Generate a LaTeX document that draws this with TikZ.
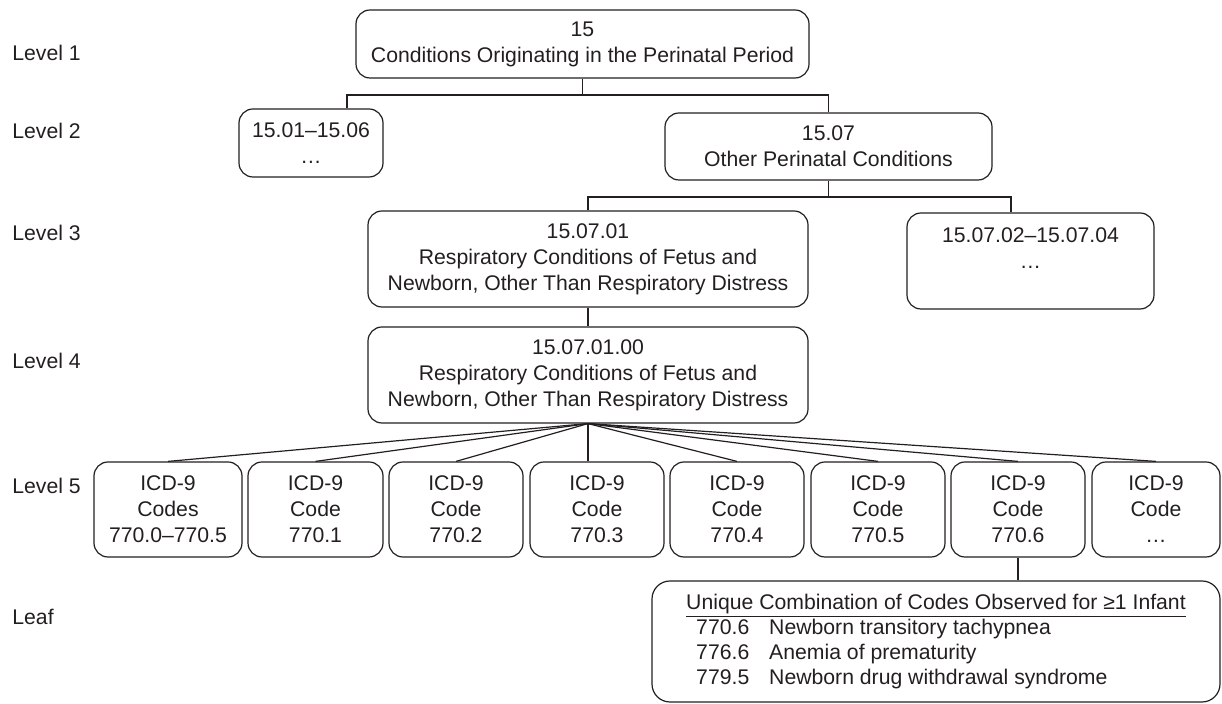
\documentclass[tikz,border=0pt]{standalone}
\usepackage{fontspec}
\setmainfont{Liberation Sans}
\usepackage{xcolor}
\usepackage{tikz}
\definecolor{ink}{HTML}{231F20}

\begin{document}
\begin{tikzpicture}[x=0.5pt, y=-0.5pt,
    box/.style={draw=ink, text=ink, line width=0.6pt, rounded corners=7pt, align=center, inner sep=2pt, font=\fontsize{10.6}{13}\selectfont},
    icd/.style={box, minimum width=67pt, minimum height=47.5pt},
    lvl/.style={anchor=west, text=ink, inner sep=0pt, font=\fontsize{10.6}{13}\selectfont},
    wire/.style={draw=ink, line width=0.6pt}]
    \useasboundingbox (0,0) rectangle (1222,704);

    \node[lvl] (lv1) at (12, 53) {Level 1};
    \node[lvl] (lv2) at (12, 131) {Level 2};
    \node[lvl] (lv3) at (12, 233) {Level 3};
    \node[lvl] (lv4) at (12, 361) {Level 4};
    \node[lvl] (lv5) at (12, 486) {Level 5};
    \node[lvl] (lvleaf) at (12, 617) {Leaf};

    \node[box, minimum width=226.5pt, minimum height=34pt] (n15) at (582.5, 44) {15\\Conditions Originating in the Perinatal Period};
    \node[box, minimum width=72pt, minimum height=34pt] (n1501) at (311, 143) {15.01–15.06\\…};
    \node[box, minimum width=163.5pt, minimum height=33.5pt] (n1507) at (828.5, 146.5) {15.07\\Other Perinatal Conditions};
    \node[box, minimum width=220pt, minimum height=48pt] (n150701) at (588, 259) {15.07.01\\Respiratory Conditions of Fetus and\\Newborn, Other Than Respiratory Distress};
    \node[box, minimum width=123.5pt, minimum height=48pt] (n150702) at (1030.5, 261) {15.07.02–15.07.04\\…\\\mbox{}};
    \node[box, minimum width=220pt, minimum height=48pt] (n15070100) at (588, 375) {15.07.01.00\\Respiratory Conditions of Fetus and\\Newborn, Other Than Respiratory Distress};

    \node[icd, minimum width=74pt] (i1) at (168, 509.5) {ICD-9\\Codes\\770.0–770.5};
    \node[icd, minimum width=67.5pt] (i2) at (315.5, 509.5) {ICD-9\\Code\\770.1};
    \node[icd] (i3) at (456, 509.5) {ICD-9\\Code\\770.2};
    \node[icd] (i4) at (597, 509.5) {ICD-9\\Code\\770.3};
    \node[icd] (i5) at (737, 509.5) {ICD-9\\Code\\770.4};
    \node[icd] (i6) at (878, 509.5) {ICD-9\\Code\\770.5};
    \node[icd] (i7) at (1018, 509.5) {ICD-9\\Code\\770.6};
    \node[icd, minimum width=64pt] (i8) at (1156, 509.5) {ICD-9\\Code\\…};

    \node[box, align=left, minimum width=284pt, minimum height=60.5pt, rounded corners=9pt, font=\fontsize{10.6}{12.5}\selectfont] (leaf) at (936, 641.5)
        {\underline{Unique Combination of Codes Observed for ≥1 Infant}\\
         \hspace*{5pt}\makebox[36.5pt][l]{770.6}Newborn transitory tachypnea\\
         \hspace*{5pt}\makebox[36.5pt][l]{776.6}Anemia of prematurity\\
         \hspace*{5pt}\makebox[36.5pt][l]{779.5}Newborn drug withdrawal syndrome};

    \coordinate (j1) at (582.5, 95);
    \coordinate (j2) at (828.5, 197);

    \draw[wire] (n15.south) -- (j1);
    \draw[wire] ([xshift=18pt]n1501.north) |- (j1) -| (n1507.north);
    \draw[wire] (n1507.south) -- (j2);
    \draw[wire] (n150701.north) |- (j2) -| ([xshift=-9.75pt]n150702.north);
    \draw[wire] (n150701.south) -- (n15070100.north);

    \draw[wire] (n15070100.south) -- (i1.north);
    \draw[wire] (n15070100.south) -- (i2.north);
    \draw[wire] (n15070100.south) -- (i3.north);
    \draw[wire] (n15070100.south) -- (n15070100.south |- i4.north);
    \draw[wire] (n15070100.south) -- (i5.north);
    \draw[wire] (n15070100.south) -- (i6.north);
    \draw[wire] (n15070100.south) -- (i7.north);
    \draw[wire] (n15070100.south) -- (i8.north);

    \draw[wire] (i7.south) -- (i7.south |- leaf.north);
\end{tikzpicture}
\end{document}
